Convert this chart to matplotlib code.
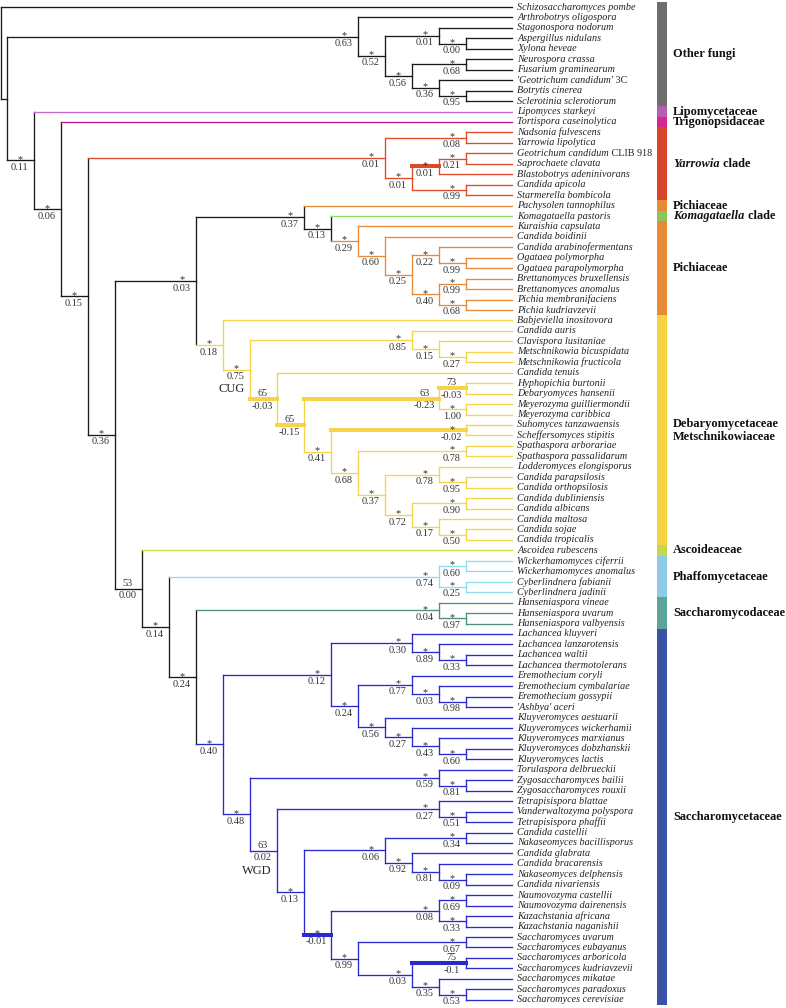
import matplotlib
matplotlib.use("Agg")
import matplotlib.pyplot as plt

plt.rcParams['font.family'] = ['Liberation Serif', 'DejaVu Serif']

# leaf names, top to bottom
leaves = [
    "Schizosaccharomyces pombe", "Arthrobotrys oligospora", "Stagonospora nodorum",
    "Aspergillus nidulans", "Xylona heveae", "Neurospora crassa", "Fusarium graminearum",
    "'Geotrichum candidum'", "Botrytis cinerea", "Sclerotinia sclerotiorum",
    "Lipomyces starkeyi", "Tortispora caseinolytica", "Nadsonia fulvescens",
    "Yarrowia lipolytica", "Geotrichum candidum", "Saprochaete clavata",
    "Blastobotrys adeninivorans", "Candida apicola", "Starmerella bombicola",
    "Pachysolen tannophilus", "Komagataella pastoris", "Kuraishia capsulata",
    "Candida boidinii", "Candida arabinofermentans", "Ogataea polymorpha",
    "Ogataea parapolymorpha", "Brettanomyces bruxellensis", "Brettanomyces anomalus",
    "Pichia membranifaciens", "Pichia kudriavzevii", "Babjeviella inositovora",
    "Candida auris", "Clavispora lusitaniae", "Metschnikowia bicuspidata",
    "Metschnikowia fructicola", "Candida tenuis", "Hyphopichia burtonii",
    "Debaryomyces hansenii", "Meyerozyma guilliermondii", "Meyerozyma caribbica",
    "Suhomyces tanzawaensis", "Scheffersomyces stipitis", "Spathaspora arborariae",
    "Spathaspora passalidarum", "Lodderomyces elongisporus", "Candida parapsilosis",
    "Candida orthopsilosis", "Candida dubliniensis", "Candida albicans",
    "Candida maltosa", "Candida sojae", "Candida tropicalis", "Ascoidea rubescens",
    "Wickerhamomyces ciferrii", "Wickerhamomyces anomalus", "Cyberlindnera fabianii",
    "Cyberlindnera jadinii", "Hanseniaspora vineae", "Hanseniaspora uvarum",
    "Hanseniaspora valbyensis", "Lachancea kluyveri", "Lachancea lanzarotensis",
    "Lachancea waltii", "Lachancea thermotolerans", "Eremothecium coryli",
    "Eremothecium cymbalariae", "Eremothecium gossypii", "'Ashbya' aceri",
    "Kluyveromyces aestuarii", "Kluyveromyces wickerhamii", "Kluyveromyces marxianus",
    "Kluyveromyces dobzhanskii", "Kluyveromyces lactis", "Torulaspora delbrueckii",
    "Zygosaccharomyces bailii", "Zygosaccharomyces rouxii", "Tetrapisispora blattae",
    "Vanderwaltozyma polyspora", "Tetrapisispora phaffii", "Candida castellii",
    "Nakaseomyces bacillisporus", "Candida glabrata", "Candida bracarensis",
    "Nakaseomyces delphensis", "Candida nivariensis", "Naumovozyma castellii",
    "Naumovozyma dairenensis", "Kazachstania africana", "Kazachstania naganishii",
    "Saccharomyces uvarum", "Saccharomyces eubayanus", "Saccharomyces arboricola",
    "Saccharomyces kudriavzevii", "Saccharomyces mikatae", "Saccharomyces paradoxus",
    "Saccharomyces cerevisiae",
]
roman_suffix = {7: " 3C", 14: " CLIB 918"}

# topology per clade (leaf index, node label "top/bottom")
other_fungi = "(1,((2,(3,4)*/0.00)*/0.01,((5,6)*/0.68,(7,(8,9)*/0.95)*/0.36)*/0.56)*/0.52)*/0.63"
yarrowia = "((12,13)*/0.08,(((14,15)*/0.21,16)*/0.01,(17,18)*/0.99)*/0.01)*/0.01"
pichia = ("(19,(20,(21,(22,((23,(24,25)*/0.99)*/0.22,((26,27)*/0.99,(28,29)*/0.68)*/0.40)*/0.25)"
          "*/0.60)*/0.29)*/0.13)*/0.37")
cug = ("(30,((31,(32,(33,34)*/0.27)*/0.15)*/0.85,(35,(((36,37)73/-0.03,(38,39)*/1.00)63/-0.23,"
       "((40,41)*/-0.02,((42,43)*/0.78,((44,(45,46)*/0.95)*/0.78,((47,48)*/0.90,"
       "(49,(50,51)*/0.50)*/0.17)*/0.72)*/0.37)*/0.68)*/0.41)65/-0.15)65/-0.03)*/0.75)*/0.18")
saccharomycetaceae = (
    "(((60,(61,(62,63)*/0.33)*/0.89)*/0.30,((64,(65,(66,67)*/0.98)*/0.03)*/0.77,"
    "(68,(69,(70,(71,72)*/0.60)*/0.43)*/0.27)*/0.56)*/0.24)*/0.12,"
    "((73,(74,75)*/0.81)*/0.59,((76,(77,78)*/0.51)*/0.27,(((79,80)*/0.34,"
    "(81,(82,(83,84)*/0.09)*/0.81)*/0.92)*/0.06,(((85,86)*/0.69,(87,88)*/0.33)*/0.08,"
    "((89,90)*/0.67,((91,92)75/-0.1,(93,(94,95)*/0.53)*/0.35)*/0.03)*/0.99)*/-0.01)*/0.13)"
    "63/0.02)*/0.48)*/0.40")
lower = ("(52,(((53,54)*/0.60,(55,56)*/0.25)*/0.74,((57,(58,59)*/0.97)*/0.04,"
         + saccharomycetaceae + ")*/0.24)*/0.14)53/0.00")
backbone = ("(0,(" + other_fungi + ",(10,(11,(" + yarrowia + ",((" + pichia + "," + cug
            + ")*/0.03," + lower + ")*/0.36)*/0.15)*/0.06)*/0.11))")

# groups: label (italic part, roman part), first leaf, last leaf
group_labels = [("", "Other fungi"), ("", "Lipomycetaceae"), ("", "Trigonopsidaceae"),
                ("Yarrowia", " clade"), ("", "Pichiaceae"), ("Komagataella", " clade"),
                ("", "Pichiaceae"), ("", "Debaryomycetaceae\nMetschnikowiaceae"),
                ("", "Ascoideaceae"), ("", "Phaffomycetaceae"), ("", "Saccharomycodaceae"),
                ("", "Saccharomycetaceae")]
group_first = [0, 10, 11, 12, 19, 20, 21, 30, 52, 53, 57, 60]
group_last = [9, 10, 11, 18, 19, 20, 29, 51, 52, 56, 59, 95]
bar_colors = ["#6e6e6e", "#b35fb3", "#d4268c", "#d8452a", "#e88a35", "#8cc55a", "#e88a35",
              "#f6d340", "#c3d84c", "#8dcbe9", "#5aa597", "#3b53a6"]
line_colors = ["#1a1a1a", "#cc66cc", "#c01a80", "#de4a28", "#e8893a", "#88dd66", "#e8893a",
               "#f6d44a", "#d0de3c", "#8fdcef", "#4f907c", "#2929cc"]

thick_spans = [(14, 16), (35, 51), (36, 51), (36, 39), (36, 37), (40, 41), (85, 95), (91, 92)]
extra_level = {(89, 95): 1}
clade_names = {(31, 51): "CUG", (76, 95): "WGD"}


def parse(s):
    s = s.replace(" ", "")
    pos = 0

    def node():
        nonlocal pos
        if s[pos] == '(':
            pos += 1
            kids = [node()]
            while s[pos] == ',':
                pos += 1
                kids.append(node())
            pos += 1
            start = pos
            while pos < len(s) and s[pos] not in ',)':
                pos += 1
            return {'kids': kids, 'label': s[start:pos]}
        start = pos
        while pos < len(s) and s[pos] not in ',)':
            pos += 1
        return {'leaf': int(s[start:pos])}
    return node()


leaf_group = {}
for g, (a, b) in enumerate(zip(group_first, group_last)):
    for i in range(a, b + 1):
        leaf_group[i] = g


def layout(n):
    if 'leaf' in n:
        n['h'] = 0
        n['y'] = n['leaf']
        n['span'] = (n['leaf'], n['leaf'])
        n['groups'] = {leaf_group[n['leaf']]}
        return
    for k in n['kids']:
        layout(k)
    n['span'] = (n['kids'][0]['span'][0], n['kids'][-1]['span'][1])
    n['h'] = max(k['h'] for k in n['kids']) + 1 + extra_level.get(n['span'], 0)
    n['y'] = (n['kids'][0]['y'] + n['kids'][-1]['y']) / 2
    n['groups'] = set().union(*[k['groups'] for k in n['kids']])


tree = parse(backbone)
layout(tree)

LEAF_END = 0.7
fig = plt.figure(figsize=(7.86, 10.08), dpi=100)
ax = fig.add_axes([0, 0, 1, 1])
ax.set_xlim(-18.26, 10.85)
ax.set_ylim(95.79, -0.67)
ax.axis('off')


def color_of(n):
    if len(n['groups']) == 1:
        return line_colors[next(iter(n['groups']))]
    return "#1a1a1a"


def draw(n, parent_x):
    x = -n['h'] if parent_x is not None else None
    col = color_of(n)
    if 'leaf' in n:
        ax.plot([parent_x, LEAF_END], [n['y'], n['y']], color=col, lw=0.95)
        t = ax.text(0.89, n['y'], leaves[n['leaf']], style='italic', fontsize=7.3,
                    va='center', ha='left', color='#222222')
        if n['leaf'] in roman_suffix:
            ax.annotate(roman_suffix[n['leaf']], xy=(1, 0), xycoords=t, va='bottom',
                        ha='left', fontsize=7.3, color='#222222')
        return
    if parent_x is None:
        x = -tree['kids'][1]['h'] - 0.22
    lw = 2.9 if n['span'] in thick_spans else 0.95
    if parent_x is not None:
        ax.plot([parent_x, x], [n['y'], n['y']], color=col, lw=lw)
    ax.plot([x, x], [n['kids'][0]['y'], n['kids'][-1]['y']], color=col, lw=0.95)
    if n['label']:
        top, bottom = n['label'].split('/')
        lx = x - 0.53
        if top == '*':
            ax.text(lx, n['y'] + 0.14, top, fontsize=7.4, ha='center', va='baseline',
                    color='#333333')
        else:
            ax.text(lx, n['y'] - 0.29, top, fontsize=7.4, ha='center', va='baseline',
                    color='#333333')
        ax.text(lx, n['y'] + 0.91, bottom, fontsize=7.4, ha='center', va='baseline',
                color='#333333')
    if n['span'] in clade_names:
        ax.text(x - 0.2, n['y'] + 1.9, clade_names[n['span']], fontsize=9, ha='right',
                va='center', color='#222222')
    for k in n['kids']:
        draw(k, x)


draw(tree, None)

# colour bar and group names
for g in range(len(group_labels)):
    a, b = group_first[g], group_last[g]
    ax.barh((a + b) / 2, 0.37, left=6.07, height=b - a + 1, color=bar_colors[g])
    ital, rom = group_labels[g]
    yc = (a + b) / 2
    if ital:
        t = ax.text(6.67, yc, ital, style='italic', fontweight='bold', fontsize=8.9,
                    va='center', ha='left', color='#111111')
        ax.annotate(rom, xy=(1, 0), xycoords=t, va='bottom', ha='left', fontsize=8.9,
                    fontweight='bold', color='#111111')
    else:
        ax.text(6.67, yc, rom, fontweight='bold', fontsize=8.9, va='center', ha='left',
                color='#111111', linespacing=1.1)

fig.savefig("out.png", dpi=100)
